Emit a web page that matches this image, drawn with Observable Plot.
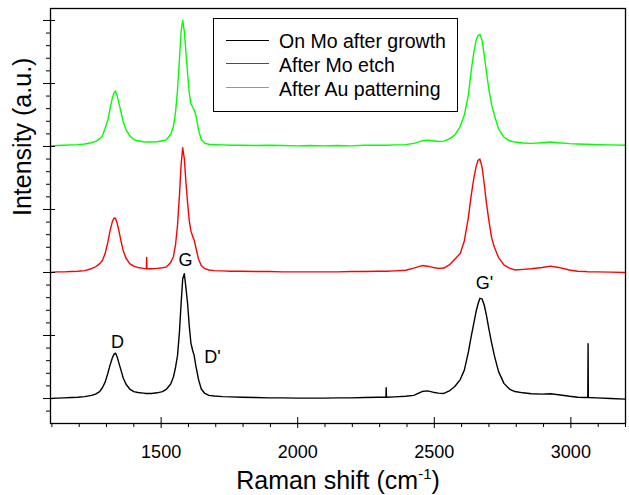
<!DOCTYPE html>
<html><head><meta charset="utf-8">
<script src="https://cdn.jsdelivr.net/npm/d3@7"></script>
<script src="https://cdn.jsdelivr.net/npm/@observablehq/plot@0.6"></script>
<style>
body{margin:0;background:#fff;font-family:"Liberation Sans",Arial,sans-serif;}
#wrap{position:relative;width:629px;height:495px;}
#legend{position:absolute;left:213px;top:18px;width:245px;height:94px;border:1.5px solid #000;background:#fff;box-sizing:border-box;}
.row{position:absolute;left:0;height:0;}
.row .sw{position:absolute;left:12px;width:43px;top:-0.75px;height:0;border-top:1.5px solid;}
.row .lab{position:absolute;left:65px;top:-11.5px;font-size:19.5px;line-height:24px;white-space:nowrap;color:#000;}
</style></head>
<body><div id="wrap"></div>
<script>
// Raman shift sample points (cm^-1)
const shift = [1095,1120,1145,1170,1195,1220,1245,1260,1275,1285,
  1295,1305,1313,1321,1327,1333,1339,1345,1353,1361,
  1371,1385,1400,1415,1435,1446,1447,1448,1465,1485,
  1505,1520,1535,1545,1553,1560,1567,1573,1579,1585,
  1591,1597,1603,1609,1615,1621,1627,1637,1647,1660,
  1675,1695,1725,1755,1795,1845,1895,1945,1995,2045,
  2095,2145,2195,2245,2295,2323,2324,2325,2355,2395,
  2425,2455,2475,2495,2515,2535,2555,2575,2595,2610,
  2625,2635,2645,2653,2660,2667,2675,2683,2691,2700,
  2710,2720,2735,2755,2775,2795,2825,2855,2895,2925,
  2955,2995,3025,3055,3062,3063,3064,3095,3145,3200];

// "On Mo after growth" (black)
const onMo = [0.0,0.005,0.01,0.015,0.02,0.03,0.05,0.07,0.11,0.17,
  0.26,0.40,0.53,0.64,0.70,0.72,0.66,0.57,0.45,0.33,
  0.23,0.15,0.11,0.095,0.085,0.08,0.08,0.08,0.08,0.09,
  0.11,0.15,0.23,0.34,0.50,0.68,1.05,1.50,1.90,1.98,
  1.75,1.50,1.15,0.88,0.77,0.68,0.52,0.30,0.15,0.08,
  0.05,0.04,0.03,0.025,0.02,0.015,0.01,0.01,0.005,0.005,
  0.005,0.01,0.01,0.015,0.02,0.02,0.17,0.02,0.025,0.035,
  0.05,0.11,0.12,0.10,0.085,0.08,0.12,0.19,0.30,0.45,
  0.74,0.98,1.20,1.38,1.50,1.59,1.58,1.48,1.32,1.10,
  0.88,0.68,0.43,0.24,0.15,0.11,0.09,0.075,0.07,0.075,
  0.06,0.035,0.02,0.015,0.015,0.87,0.015,0.01,0.0,-0.01];

// "After Mo etch" (red)
const afterEtch = [0.0,0.01,0.01,0.015,0.02,0.03,0.06,0.09,0.14,0.19,
  0.30,0.48,0.66,0.80,0.86,0.86,0.78,0.67,0.50,0.35,
  0.23,0.14,0.10,0.08,0.065,0.06,0.24,0.06,0.06,0.065,
  0.075,0.09,0.16,0.25,0.45,0.75,1.22,1.70,1.98,1.80,
  1.42,1.10,0.82,0.66,0.58,0.51,0.40,0.21,0.11,0.06,
  0.04,0.03,0.025,0.02,0.02,0.015,0.015,0.01,0.01,0.01,
  0.01,0.01,0.015,0.015,0.02,0.02,0.02,0.02,0.025,0.035,
  0.07,0.11,0.10,0.08,0.065,0.07,0.12,0.21,0.30,0.50,
  0.88,1.22,1.50,1.68,1.78,1.80,1.67,1.40,1.10,0.82,
  0.55,0.40,0.24,0.12,0.07,0.04,0.05,0.06,0.08,0.10,
  0.08,0.04,0.02,0.015,0.01,0.01,0.01,0.01,0.005,0.0];

// "After Au patterning" (green)
const afterAu = [0.01,0.015,0.02,0.025,0.03,0.04,0.06,0.08,0.12,0.17,
  0.29,0.42,0.60,0.76,0.85,0.88,0.80,0.70,0.55,0.40,
  0.27,0.17,0.11,0.09,0.075,0.07,0.07,0.07,0.07,0.075,
  0.09,0.11,0.19,0.32,0.55,0.90,1.38,1.82,2.0,1.82,
  1.48,1.15,0.85,0.68,0.63,0.58,0.50,0.26,0.11,0.05,
  0.035,0.03,0.025,0.02,0.02,0.015,0.02,0.015,0.01,0.015,
  0.01,0.015,0.01,0.02,0.02,0.02,0.02,0.02,0.025,0.03,
  0.05,0.09,0.10,0.09,0.08,0.085,0.12,0.18,0.32,0.50,
  0.82,1.20,1.50,1.68,1.76,1.78,1.68,1.45,1.18,0.90,
  0.66,0.50,0.28,0.15,0.09,0.07,0.055,0.05,0.06,0.07,
  0.06,0.045,0.04,0.035,0.035,0.035,0.035,0.03,0.025,0.02];

const seriesNames = ["On Mo after growth", "After Mo etch", "After Au patterning"];
const seriesColors = ["#000000", "#ff0000", "#00ff00"];
const seriesOffsets = [0, 2, 4];

const peakLabels = ["D", "G", "D'", "G'"];
const peakX = [1340, 1589, 1688, 2684];
const peakY = [0.89, 2.19, 0.65, 1.83];

const xMajor = [1500, 2000, 2500, 3000];
const xMinor = [1100,1200,1300,1400,1600,1700,1800,1900,2100,2200,2300,2400,2600,2700,2800,2900,3100,3200];
const yMajor = [0, 1, 2, 3, 4, 5, 6];
const yMinor = [-0.2,0.2,0.4,0.6,0.8,1.2,1.4,1.6,1.8,2.2,2.4,2.6,2.8,3.2,3.4,3.6,3.8,4.2,4.4,4.6,4.8,5.2,5.4,5.6,5.8];

const allSeries = [onMo, afterEtch, afterAu];
const lineMarks = allSeries.map((vals, s) =>
  Plot.line(shift.map((x, i) => ({x, y: vals[i] + seriesOffsets[s]})),
    {x: "x", y: "y", stroke: seriesColors[s], strokeWidth: 1.4}));

const chart = Plot.plot({
  width: 629, height: 495,
  marginLeft: 50, marginRight: 4, marginTop: 8, marginBottom: 72,
  style: {fontFamily: '"Liberation Sans", Arial, sans-serif', color: "#000", background: "#fff"},
  x: {domain: [1095, 3200]},
  y: {domain: [-0.397, 6.19]},
  marks: [
    ...lineMarks,
    Plot.text(peakLabels, {x: (d, i) => peakX[i], y: (d, i) => peakY[i], text: d => d, fontSize: 18, fill: "#000", lineAnchor: "middle"}),
    Plot.axisX({ticks: xMajor, tickSize: 11, dy: -6, fill: "none", label: null, stroke: "#000"}),
    Plot.axisX({ticks: xMinor, tickSize: 4, fill: "none", label: null, stroke: "#000"}),
    Plot.axisX({ticks: xMajor, tickSize: 0, tickPadding: 22, fontSize: 18, label: null, fill: "#000", tickFormat: d => String(d)}),
    Plot.axisY({ticks: yMajor, tickSize: 12, dx: 5, fill: "none", label: null, stroke: "#000"}),
    Plot.axisY({ticks: yMinor, tickSize: 4, fill: "none", label: null, stroke: "#000"}),
    Plot.text(["Raman shift (cm-1)"], {frameAnchor: "bottom", dy: 57, fontSize: 25, lineAnchor: "middle", fill: "#000"}),
    Plot.text(["Intensity (a.u.)"], {frameAnchor: "left", dx: -28, rotate: -90, fontSize: 25, lineAnchor: "middle", fill: "#000"}),
    Plot.frame({stroke: "#000", strokeWidth: 1.3})
  ]
});

// superscript for the x title
chart.querySelectorAll("text").forEach(t => {
  if (t.textContent === "Raman shift (cm-1)") {
    t.textContent = "";
    const ns = "http://www.w3.org/2000/svg";
    const a = document.createElementNS(ns, "tspan"); a.textContent = "Raman shift (cm";
    const b = document.createElementNS(ns, "tspan"); b.textContent = "-1"; b.setAttribute("dy", "-10"); b.setAttribute("font-size", "15");
    const c = document.createElementNS(ns, "tspan"); c.textContent = ")"; c.setAttribute("dy", "10");
    t.append(a, b, c);
  }
});

const wrap = document.getElementById("wrap");
wrap.appendChild(chart);

const legend = document.createElement("div");
legend.id = "legend";
const rowTops = [21.5, 45, 69];
seriesNames.forEach((name, i) => {
  const row = document.createElement("div");
  row.className = "row";
  row.style.top = rowTops[i] + "px";
  const sw = document.createElement("div"); sw.className = "sw"; sw.style.borderTopColor = seriesColors[i];
  const lab = document.createElement("div"); lab.className = "lab"; lab.textContent = name;
  row.append(sw, lab);
  legend.appendChild(row);
});
wrap.appendChild(legend);
</script>
</body></html>
